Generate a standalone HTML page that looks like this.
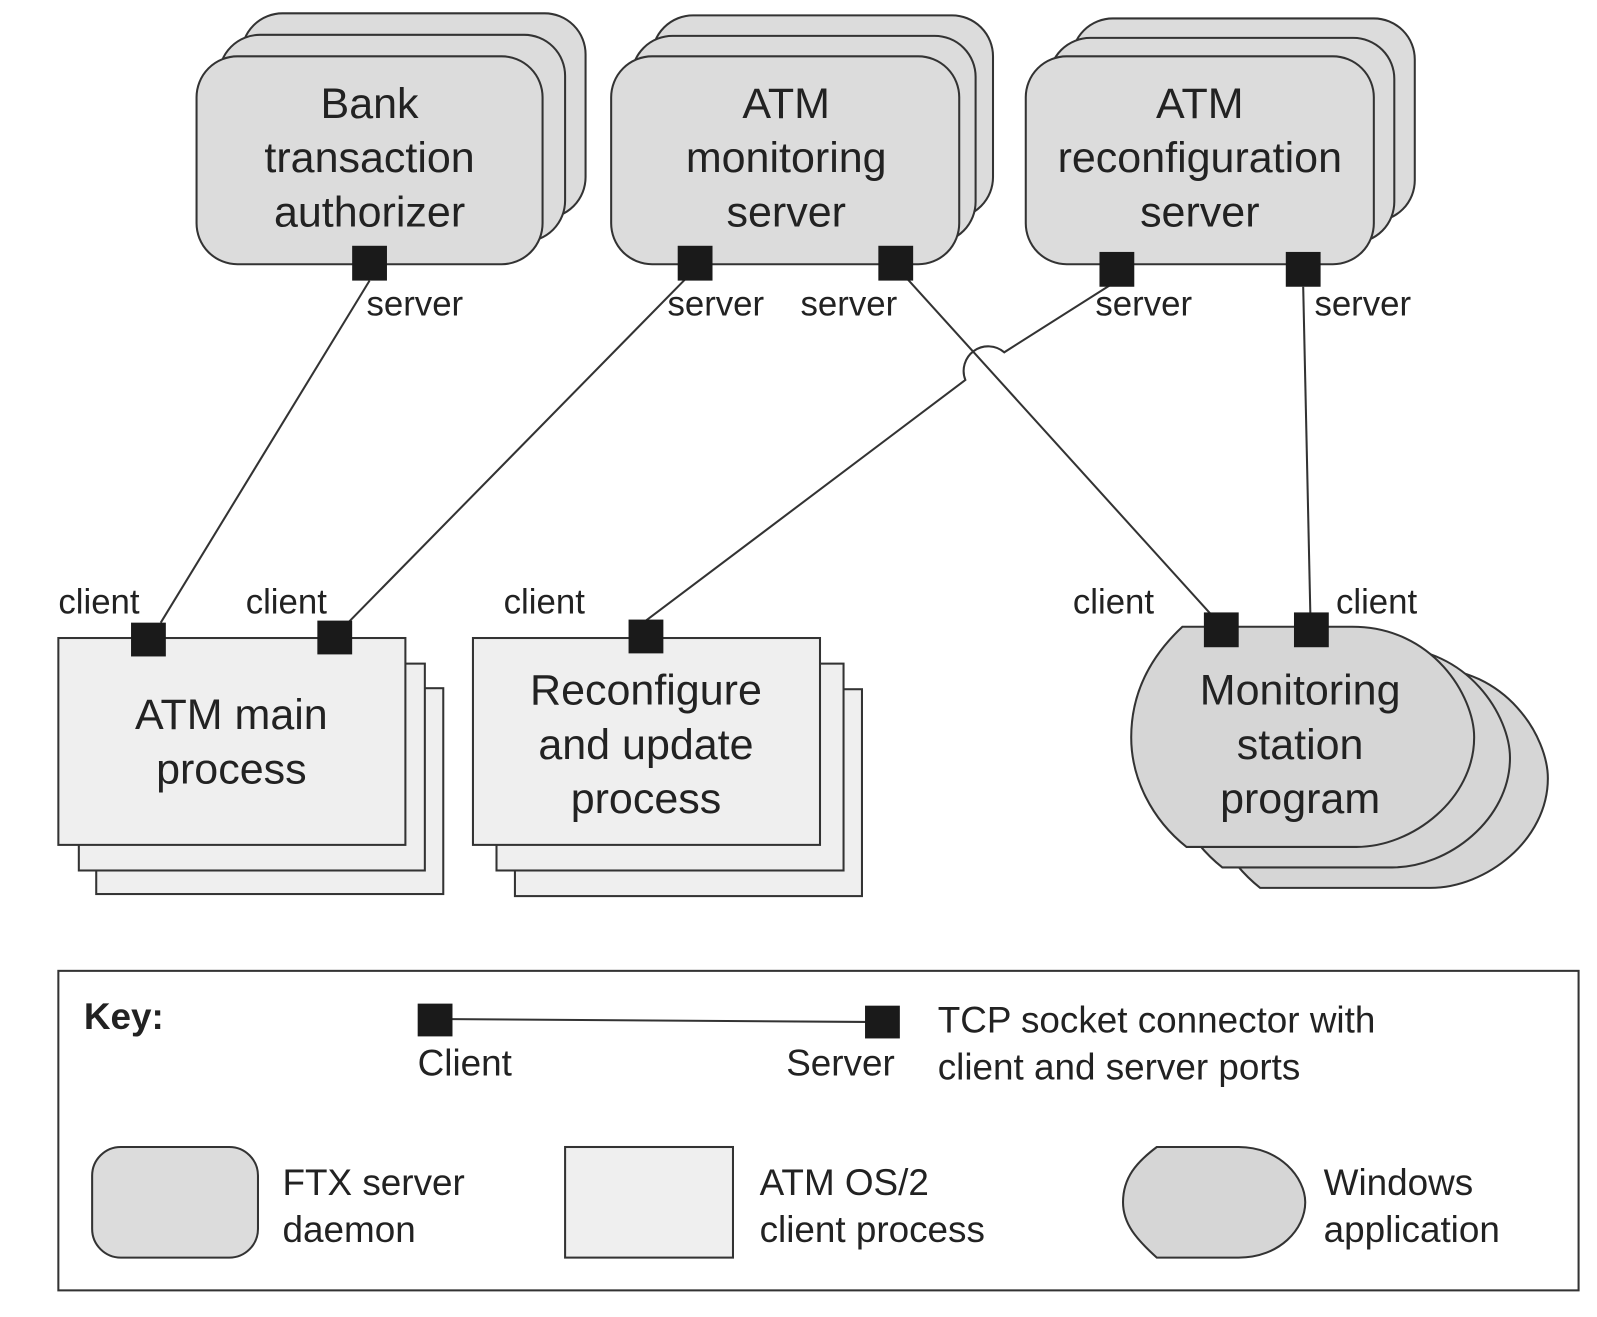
<!DOCTYPE html>
<html><head><meta charset="utf-8"><style>
html,body{margin:0;padding:0;background:#fff}
svg{display:block}
text{font-family:"Liberation Sans",sans-serif;fill:#222}
</style></head><body>
<svg width="1597" height="1317" viewBox="0 0 1560 1286" preserveAspectRatio="none" xmlns="http://www.w3.org/2000/svg">
<g stroke="#333" stroke-width="2">
<!-- FTX servers -->
<g fill="#dcdcdc">
<rect x="236" y="13" width="336" height="200" rx="40"/>
<rect x="214" y="34" width="338" height="202" rx="40"/>
<rect x="192" y="55" width="338" height="203" rx="40"/>
<rect x="637" y="15" width="333" height="198" rx="40"/>
<rect x="617" y="35" width="336" height="202" rx="40"/>
<rect x="597" y="55" width="340" height="203" rx="40"/>
<rect x="1047" y="18" width="335" height="198" rx="40"/>
<rect x="1025" y="37" width="337" height="200" rx="40"/>
<rect x="1002" y="55" width="340" height="203" rx="40"/>
</g>
<!-- client processes -->
<g fill="#efefef">
<rect x="94" y="672" width="339" height="201"/>
<rect x="77" y="648" width="338" height="202"/>
<rect x="57" y="623" width="339" height="202"/>
<rect x="503" y="673" width="339" height="202"/>
<rect x="485" y="648" width="339" height="202"/>
<rect x="462" y="623" width="339" height="202"/>
</g>
<!-- windows app -->
<g fill="#d6d6d6">
<path transform="translate(72,40)" d="M1155,612 L1321,612 C1400,612 1440,680 1440,720 C1440,780 1380,827 1325,827 L1159,827 C1125,800 1105,760 1105,720 C1105,675 1125,640 1155,612 Z"/>
<path transform="translate(35,20)" d="M1155,612 L1321,612 C1400,612 1440,680 1440,720 C1440,780 1380,827 1325,827 L1159,827 C1125,800 1105,760 1105,720 C1105,675 1125,640 1155,612 Z"/>
<path d="M1155,612 L1321,612 C1400,612 1440,680 1440,720 C1440,780 1380,827 1325,827 L1159,827 C1125,800 1105,760 1105,720 C1105,675 1125,640 1155,612 Z"/>
</g>
<!-- connectors -->
<g fill="none">
<line x1="361" y1="274" x2="157" y2="608"/>
<line x1="670" y1="272" x2="340" y2="608"/>
<line x1="886" y1="272" x2="1183" y2="600"/>
<path d="M631,606 L943,371 A24,24 0 0 1 981,344 L1085,278"/>
<line x1="1273" y1="280" x2="1280" y2="600"/>
<line x1="425" y1="995" x2="862" y2="998"/>
</g>
<!-- key box -->
<rect x="57" y="948" width="1485" height="312" fill="none"/>
<rect x="90" y="1120" width="162" height="108" rx="28" fill="#dcdcdc"/>
<rect x="552" y="1120" width="164" height="108" fill="#efefef"/>
<path d="M1130,1120 L1210,1120 C1250,1120 1275,1150 1275,1174 C1275,1200 1250,1228 1210,1228 L1130,1228 C1110,1210 1097,1195 1097,1174 C1097,1150 1110,1135 1130,1120Z" fill="#d6d6d6"/>
</g>
<!-- ports -->
<g fill="#1a1a1a">
<rect x="344" y="240" width="34" height="34"/>
<rect x="662" y="240" width="34" height="34"/>
<rect x="858" y="240" width="34" height="34"/>
<rect x="1074" y="246" width="34" height="34"/>
<rect x="1256" y="246" width="34" height="34"/>
<rect x="128" y="608" width="34" height="33"/>
<rect x="310" y="606" width="34" height="33"/>
<rect x="614" y="605" width="34" height="33"/>
<rect x="1176" y="598" width="34" height="34"/>
<rect x="1264" y="598" width="34" height="34"/>
<rect x="408" y="980" width="34" height="32"/>
<rect x="845" y="982" width="34" height="32"/>
</g>
<g font-size="42" text-anchor="middle">
<text x="361" y="115">Bank</text>
<text x="361" y="168">transaction</text>
<text x="361" y="221">authorizer</text>
<text x="768" y="115">ATM</text>
<text x="768" y="168">monitoring</text>
<text x="768" y="221">server</text>
<text x="1172" y="115">ATM</text>
<text x="1172" y="168">reconfiguration</text>
<text x="1172" y="221">server</text>
<text x="226" y="712">ATM main</text>
<text x="226" y="765">process</text>
<text x="631" y="688">Reconfigure</text>
<text x="631" y="741">and update</text>
<text x="631" y="794">process</text>
<text x="1270" y="688">Monitoring</text>
<text x="1270" y="741">station</text>
<text x="1270" y="794">program</text>
</g>
<g font-size="34">
<text x="358" y="308">server</text>
<text x="652" y="308">server</text>
<text x="782" y="308">server</text>
<text x="1070" y="308">server</text>
<text x="1284" y="308">server</text>
<text x="57" y="599">client</text>
<text x="240" y="599">client</text>
<text x="492" y="599">client</text>
<text x="1048" y="599">client</text>
<text x="1305" y="599">client</text>
</g>
<g font-size="36">
<text x="82" y="1005" font-weight="bold" fill="#333">Key:</text>
<text x="408" y="1050">Client</text>
<text x="768" y="1050">Server</text>
<text x="916" y="1008">TCP socket connector with</text>
<text x="916" y="1054">client and server ports</text>
<text x="276" y="1167">FTX server</text>
<text x="276" y="1213">daemon</text>
<text x="742" y="1167">ATM OS/2</text>
<text x="742" y="1213">client process</text>
<text x="1293" y="1167">Windows</text>
<text x="1293" y="1213">application</text>
</g>
</svg>
</body></html>
